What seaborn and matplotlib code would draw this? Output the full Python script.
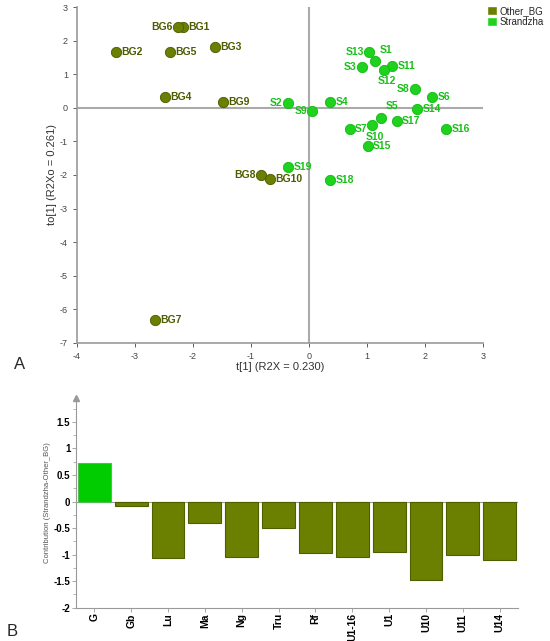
import numpy as np
import pandas as pd
import matplotlib
matplotlib.use('Agg')
import matplotlib.pyplot as plt
import matplotlib.patches as mpatches
from matplotlib.ticker import MultipleLocator
import seaborn as sns

sns.set_style('white')
plt.rcParams['font.family'] = ['Liberation Sans', 'DejaVu Sans']
plt.rcParams['axes.unicode_minus'] = False

# score plot data
labels = ['BG1', 'BG2', 'BG3', 'BG4', 'BG5', 'BG6', 'BG7', 'BG8', 'BG9', 'BG10',
          'S1', 'S2', 'S3', 'S4', 'S5', 'S6', 'S7', 'S8', 'S9', 'S10',
          'S11', 'S12', 'S13', 'S14', 'S15', 'S16', 'S17', 'S18', 'S19']
t1 = [-2.18, -3.33, -1.62, -2.49, -2.40, -2.25, -2.66, -0.82, -1.48, -0.67,
      1.14, -0.36, 0.92, 0.37, 1.25, 2.12, 0.70, 1.83, 0.06, 1.09,
      1.44, 1.30, 1.04, 1.86, 1.01, 2.37, 1.51, 0.37, -0.36]
to1 = [2.41, 1.67, 1.82, 0.31, 1.67, 2.40, -6.31, -1.99, 0.17, -2.11,
       1.38, 0.15, 1.22, 0.17, -0.31, 0.32, -0.64, 0.56, -0.10, -0.50,
       1.24, 1.14, 1.65, -0.05, -1.15, -0.64, -0.38, -2.16, -1.76]
groups = ['Other_BG'] * 10 + ['Strandzha'] * 19
# where each label sits relative to its point
label_side = {'BG6': 'left', 'BG8': 'left', 'S2': 'left', 'S3': 'left', 'S13': 'left',
              'S8': 'left', 'S9': 'left', 'S1': 'above', 'S5': 'above',
              'S12': 'below', 'S10': 'below'}

# contribution plot data
variables = ['G', 'Gb', 'Lu', 'Ma', 'Ng', 'Tru', 'Rf', 'U1-16', 'U1', 'U10', 'U11', 'U14']
contrib = [0.72, -0.09, -1.06, -0.40, -1.04, -0.50, -0.97, -1.04, -0.96, -1.48, -1.01, -1.10]

olive = '#6b7f00'
green = '#1ed21e'

scores = pd.DataFrame({'label': labels, 't1': t1, 'to1': to1, 'group': groups})
bars = pd.DataFrame({'var': variables, 'val': contrib})
bars['sign'] = np.where(bars['val'] > 0, 'Strandzha', 'Other_BG')

fig = plt.figure(figsize=(5.5, 6.41), dpi=100)

# ---- A: score plot
ax = fig.add_axes([0.14, 0.465, 0.738, 0.524])
ax.axhline(0, color='#aaaaaa', lw=1.5, zorder=0)
ax.axvline(0, color='#aaaaaa', lw=1.5, zorder=0)
sns.scatterplot(data=scores[scores.group == 'Other_BG'], x='t1', y='to1', color=olive, s=55,
                edgecolor='#4a5800', linewidth=0.6, legend=False, ax=ax, zorder=3)
sns.scatterplot(data=scores[scores.group == 'Strandzha'], x='t1', y='to1', color=green, s=55,
                edgecolor='#14b814', linewidth=0.6, legend=False, ax=ax, zorder=3)
for i, r in scores.iterrows():
    c = '#4d5c00' if r['group'] == 'Other_BG' else '#18c018'
    side = label_side.get(r['label'], 'right')
    if side == 'right':
        ax.annotate(r['label'], (r['t1'], r['to1']), xytext=(4, 0), textcoords='offset points',
                    ha='left', va='center', fontsize=7.5, fontweight='bold', color=c)
    elif side == 'left':
        ax.annotate(r['label'], (r['t1'], r['to1']), xytext=(-4, 0), textcoords='offset points',
                    ha='right', va='center', fontsize=7.5, fontweight='bold', color=c)
    elif side == 'above':
        ax.annotate(r['label'], (r['t1'], r['to1']), xytext=(3, 5), textcoords='offset points',
                    ha='left', va='bottom', fontsize=7.5, fontweight='bold', color=c)
    else:
        ax.annotate(r['label'], (r['t1'], r['to1']), xytext=(2, -5), textcoords='offset points',
                    ha='center', va='top', fontsize=7.5, fontweight='bold', color=c)
ax.set_xlim(-4, 3)
ax.set_ylim(-7, 3)
ax.xaxis.set_major_locator(MultipleLocator(1))
ax.yaxis.set_major_locator(MultipleLocator(1))
ax.tick_params(labelsize=6.5, colors='#444444', length=3, direction='out', width=0.6)
ax.tick_params(axis='both', which='both', left=True, bottom=True)
for s in ['top', 'right']:
    ax.spines[s].set_visible(False)
for s in ['left', 'bottom']:
    ax.spines[s].set_color('#999999')
    ax.spines[s].set_linewidth(1.2)
ax.set_xlabel('t[1] (R2X = 0.230)', fontsize=8, color='#333333', labelpad=1)
ax.set_ylabel('to[1] (R2Xo = 0.261)', fontsize=8, color='#333333', labelpad=2)

handles = [mpatches.Patch(facecolor=olive, label='Other_BG'),
           mpatches.Patch(facecolor=green, label='Strandzha')]
fig.legend(handles=handles, loc='upper left', bbox_to_anchor=(0.875, 1.0), frameon=False,
           fontsize=7, handlelength=1.0, handleheight=1.0, handletextpad=0.3,
           labelspacing=0.1, borderaxespad=0.2)

fig.text(0.025, 0.425, 'A', fontsize=12)

# ---- B: contribution plot
bx = fig.add_axes([0.138, 0.052, 0.804, 0.327])
sns.barplot(data=bars, x='var', y='val', hue='sign', palette={'Other_BG': '#6b8000', 'Strandzha': '#00cc00'},
            dodge=False, width=0.89, legend=False, saturation=1, linewidth=0.8, ax=bx)
for p in bx.patches:
    fc = p.get_facecolor()
    p.set_edgecolor('#4f5f00' if fc[1] < 0.6 else '#55bb55')
bx.axhline(0, color='#999999', lw=0.8, zorder=0)
bx.set_xlim(-0.5, 11.5)
bx.set_ylim(-2, 1.95)
bx.set_yticks([-2, -1.5, -1, -0.5, 0, 0.5, 1, 1.5])
bx.set_yticklabels(['-2', '-1.5', '-1', '-0.5', '0', '0.5', '1', '1.5'])
bx.yaxis.set_minor_locator(MultipleLocator(0.25))
bx.tick_params(axis='y', which='major', labelsize=7, length=3, width=0.6, colors='#999999',
               labelcolor='black', left=True, pad=1)
bx.tick_params(axis='y', which='minor', length=2, width=0.5, colors='#999999', left=True)
bx.tick_params(axis='x', labelsize=7.5, length=3, width=0.6, colors='#999999',
               labelcolor='black', bottom=True, labelrotation=90, pad=1)
for lab in bx.get_xticklabels() + bx.get_yticklabels():
    lab.set_fontweight('bold')
for s in ['top', 'right']:
    bx.spines[s].set_visible(False)
for s in ['left', 'bottom']:
    bx.spines[s].set_color('#999999')
    bx.spines[s].set_linewidth(0.8)
bx.plot(0, 1, '^', color='#999999', markersize=4, transform=bx.transAxes, clip_on=False)
bx.set_xlabel('')
bx.set_ylabel('Contribution (Strandzha-Other_BG)', fontsize=5.5, color='#555555', labelpad=2)

fig.text(0.012, 0.008, 'B', fontsize=12)

plt.savefig('out.png', dpi=100)
